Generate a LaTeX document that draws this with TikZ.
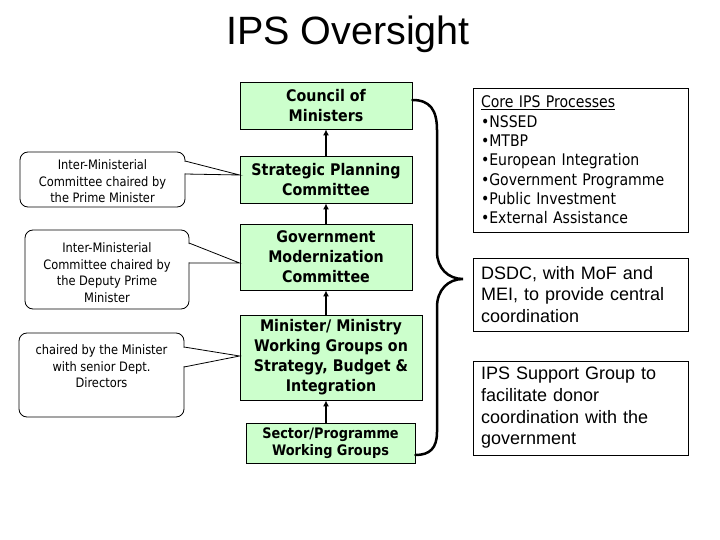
\documentclass[tikz,border=0pt]{standalone}
\usepackage{fontspec}
\setmainfont{Liberation Sans}
\newfontfamily\tah[FakeStretch=0.88]{DejaVu Sans}
\newfontfamily\tahb[FakeStretch=0.89]{DejaVu Sans Bold}
\usetikzlibrary{arrows.meta,calc}
\definecolor{gbox}{RGB}{204,255,204}
\newcommand\mkcallout[7]{%
  \draw[cbox] (#1,#2) rectangle (#3,#4);
  \fill[white] (#3-1,#5+0.7) -- (#7) -- (#3-1,#6-0.7) -- cycle;
  \draw[cline] (#3,#5) -- (#7) -- (#3,#6);
}
\begin{document}
\begin{tikzpicture}[x=1pt,y=-1pt,
  green/.style={draw=black, line width=0.8pt, fill=gbox, align=center, inner sep=0pt,
    font=\tahb\fontsize{16}{20}\selectfont},
  rbox/.style={draw=black, line width=0.8pt, fill=white, align=left, inner xsep=8pt, inner ysep=0pt,
    text width=199pt},
  ctext/.style={align=center, inner sep=0pt, font=\tah\fontsize{13}{16.5}\selectfont},
  cbox/.style={draw=black, line width=0.8pt, fill=white, rounded corners=8pt},
  cline/.style={draw=black, line width=0.8pt, line join=miter},
  arr/.style={draw=black, line width=2.3pt, -{Latex[length=6pt,width=6pt]}},
  brace/.style={draw=black, line width=2.5pt, line cap=round}]
\useasboundingbox (0,0) rectangle (720,540);

% title
\node[anchor=base, inner sep=0pt, font=\fontsize{39.5}{46}\selectfont] (title) at (348,45) {IPS Oversight};

% green column
\node[green, minimum width=172pt, minimum height=47pt] (cm) at (326,105.5) {Council of\\Ministers};
\node[green, minimum width=172pt, minimum height=47pt] (sp) at (326,179.5) {Strategic Planning\\Committee};
\node[green, minimum width=172pt, minimum height=66pt] (gm) at (326,257) {Government\\Modernization\\Committee};
\node[green, minimum width=182pt, minimum height=85pt] (mw) at (331,357.5) {Minister/ Ministry\\Working Groups on\\Strategy, Budget \&\\Integration};
\node[green, minimum width=169pt, minimum height=40pt, font=\tahb\fontsize{14.5}{17}\selectfont] (sg) at (330.5,443) {Sector/Programme\\Working Groups};

% arrows
\draw[arr] (sp.north) -- (cm.south);
\draw[arr] (gm.north) -- (sp.south);
\draw[arr] (gm.south |- mw.north) -- (gm.south);
\draw[arr] (gm.south |- sg.north) -- (gm.south |- mw.south);

% callout tips
\coordinate (t1) at ($(sp.west)+(0,-4.5)$);
\coordinate (t2) at ($(gm.west)+(0,6)$);
\coordinate (t3) at ($(mw.west)+(0,-1.5)$);

% callouts
\mkcallout{20}{152}{185}{207}{161}{174}{t1}
\node[ctext] (c1) at (102.5,181.5) {Inter-Ministerial\\Committee chaired by\\the Prime Minister};
\mkcallout{25}{230}{189}{309}{243}{263}{t2}
\node[ctext] (c2) at (107,272.5) {Inter-Ministerial\\Committee chaired by\\the Deputy Prime\\Minister};
\mkcallout{19}{333}{184}{417}{347}{367}{t3}
\node[ctext] (c3) at (101.5,366.5) {chaired by the Minister\\with senior Dept.\\Directors};

% brace
\coordinate (bs) at ($(cm.east)+(0,-5.5)$);
\coordinate (be) at ($(sg.east)+(0,12)$);
\coordinate (btip) at (463,279);
\draw[brace] (bs) .. controls (430,100) and (437,110) .. (437,130) -- (437,252)
  .. controls (437,268) and (448,279) .. (btip)
  .. controls (448,279) and (437,290) .. (437,307) -- (437,432)
  .. controls (437,448) and (430,455) .. (be);

% right boxes
\node[rbox, minimum height=144pt, font=\tah\fontsize{16}{19.3}\selectfont] (core) at (580.5,160)
  {\underline{Core IPS Processes}\\•NSSED\\•MTBP\\•European Integration\\•Government Programme\\•Public Investment\\•External Assistance};
\node[rbox, minimum height=73pt, font=\fontsize{18}{21.7}\selectfont] (dsdc) at (580.5,294.5)
  {DSDC, with MoF and\\MEI, to provide central\\coordination};
\node[rbox, minimum height=94pt, font=\fontsize{18}{21.7}\selectfont] (ipss) at (580.5,408)
  {IPS Support Group to\\facilitate donor\\coordination with the\\government};
\end{tikzpicture}
\end{document}
